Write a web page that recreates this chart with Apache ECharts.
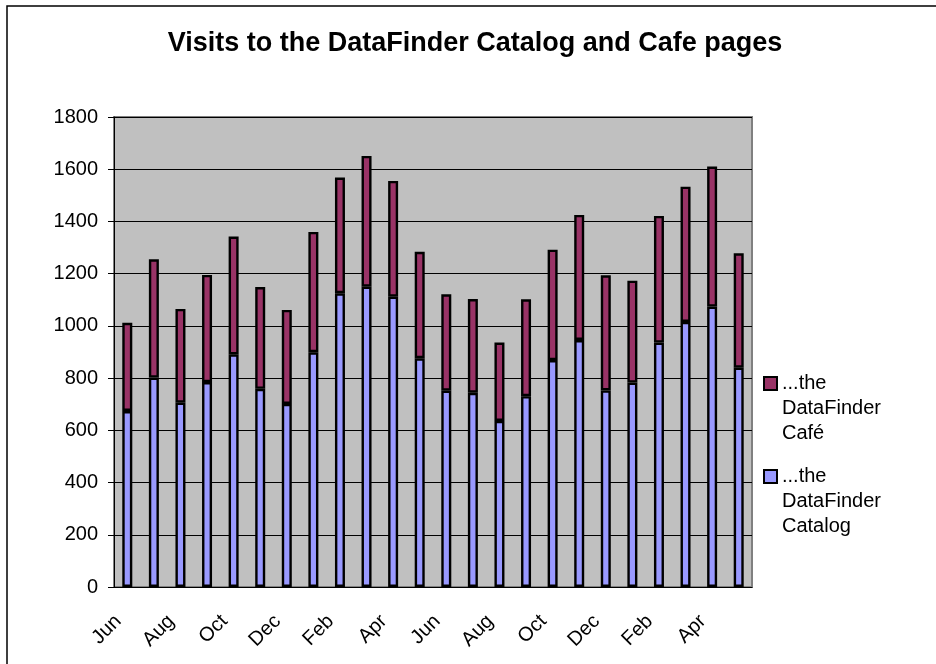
<!DOCTYPE html>
<html>
<head>
<meta charset="utf-8">
<script src="https://cdn.jsdelivr.net/npm/echarts@6/dist/echarts.min.js"></script>
<style>
  html, body { margin: 0; padding: 0; background: #fff; }
  #chart { width: 936px; height: 664px; }
</style>
</head>
<body>
<div id="chart"></div>
<script>
// months, two years starting in June
var months = ['Jun', 'Jul', 'Aug', 'Sep', 'Oct', 'Nov', 'Dec', 'Jan', 'Feb', 'Mar', 'Apr', 'May',
              'Jun', 'Jul', 'Aug', 'Sep', 'Oct', 'Nov', 'Dec', 'Jan', 'Feb', 'Mar', 'Apr', 'May'];
var catalogVisits = [674, 802, 706, 785, 891, 759, 701, 899, 1125, 1150, 1112, 876,
                     752, 744, 636, 731, 869, 946, 753, 783, 936, 1015, 1074, 840];
var cafeVisits = [338, 453, 359, 410, 451, 390, 360, 461, 443, 501, 443, 408,
                  369, 359, 300, 371, 423, 479, 441, 390, 485, 518, 536, 438];
var yTicks = { min: 0, max: 1800, step: 200 };

var FONT = "'Liberation Sans', Arial, sans-serif";
var catalogName = '...the DataFinder Catalog';
var cafeName = '...the DataFinder Café';

function legendText(name) {
    // blank lines on top so the square sits next to the first line
    return '\n\n' + name.replace(' DataFinder ', '\nDataFinder\n');
}

function legendBox(name, top) {
    return {
        data: [name],
        orient: 'vertical',
        left: 763,
        top: top,
        padding: 0,
        icon: 'rect',
        itemWidth: 13,
        itemHeight: 13,
        selectedMode: false,
        formatter: legendText,
        textStyle: {
            fontFamily: FONT,
            fontSize: 20,
            lineHeight: 25,
            color: '#000'
        }
    };
}

var option = {
    animation: false,
    backgroundColor: '#fff',
    title: {
        text: 'Visits to the DataFinder Catalog and Cafe pages',
        left: 475,
        top: 30,
        padding: 0,
        textAlign: 'center',
        textStyle: {
            fontFamily: FONT,
            fontSize: 27,
            fontWeight: 'bold',
            color: '#000'
        }
    },
    legend: [
        legendBox(cafeName, 321),
        legendBox(catalogName, 414)
    ],
    grid: {
        left: 114,
        top: 117,
        right: 184,
        bottom: 77,
        show: true,
        backgroundColor: '#C0C0C0',
        borderColor: '#808080',
        borderWidth: 2
    },
    xAxis: {
        type: 'category',
        data: months,
        axisLine: { lineStyle: { color: '#000', width: 1 } },
        axisTick: { interval: 0, length: 6, lineStyle: { color: '#000' } },
        axisLabel: {
            interval: 1,
            rotate: 45,
            margin: 22,
            padding: [0, 13, 0, 0],
            fontFamily: FONT,
            fontSize: 20,
            color: '#000'
        },
        splitLine: { show: false }
    },
    yAxis: {
        type: 'value',
        min: yTicks.min,
        max: yTicks.max,
        interval: yTicks.step,
        axisLine: { show: true, lineStyle: { color: '#000', width: 1 } },
        axisTick: { show: true, length: 6, lineStyle: { color: '#000' } },
        axisLabel: {
            margin: 16,
            fontFamily: FONT,
            fontSize: 20,
            color: '#000',
            formatter: function (v) { return String(v); }
        },
        splitLine: { lineStyle: { color: '#000', width: 1 } }
    },
    series: [{
        name: catalogName,
        type: 'bar',
        stack: 'visits',
        data: catalogVisits,
        barWidth: 10,
        itemStyle: { color: '#9999FF', borderColor: '#000', borderWidth: 2.4 }
    }, {
        name: cafeName,
        type: 'bar',
        stack: 'visits',
        data: cafeVisits,
        barWidth: 10,
        itemStyle: { color: '#993366', borderColor: '#000', borderWidth: 2.4 }
    }],
    graphic: [{
        type: 'rect',
        silent: true,
        shape: { x: 7, y: 6, width: 2000, height: 2000 },
        style: { fill: 'none', stroke: '#000', lineWidth: 1.5 }
    }]
};

var chart = echarts.init(document.getElementById('chart'));
chart.setOption(option, true);
</script>
</body>
</html>
